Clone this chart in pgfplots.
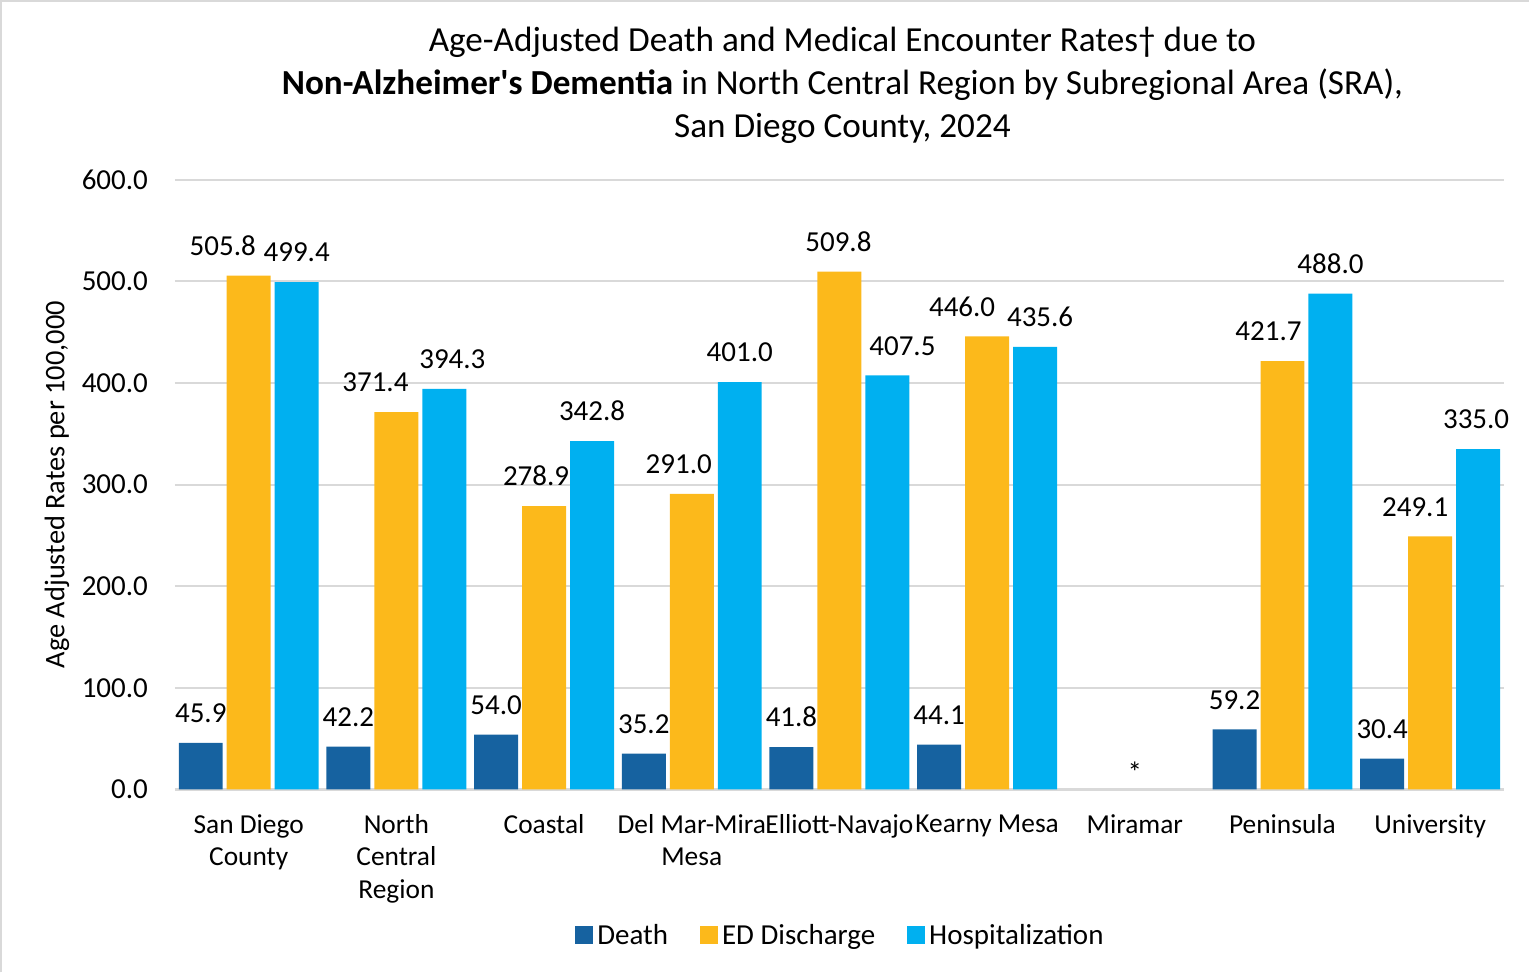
\documentclass[border=0pt]{standalone}
\usepackage{fontspec}
\setmainfont{Carlito}[Ligatures=TeXOff]
\usepackage{pgfplots}
\usepackage{pgfplotstable}
\pgfplotsset{compat=1.18}
\definecolor{death}{HTML}{1662A0}
\definecolor{edis}{HTML}{FCB91B}
\definecolor{hosp}{HTML}{00B0F0}
\definecolor{gridgray}{HTML}{D9D9D9}

% x, rates, and label x-shifts (pt) for the crowded labels
\pgfplotstableread{
x death ed    hosp  dxed  dxhosp
0 45.9  505.8 499.4 -13   0
1 42.2  371.4 394.3 -10.5 4
2 54.0  278.9 342.8 -4    0
3 35.2  291.0 401.0 -6.5  0
4 41.8  509.8 407.5 -0.5  7.5
5 44.1  446.0 435.6 -12.5 2.5
6 nan   nan   nan   0     0
7 59.2  421.7 488.0 -7    0
8 30.4  249.1 335.0 -7.5  -1
}\rates

\begin{document}
\begin{tikzpicture}
\path (0,0) rectangle (765pt,486.5pt);
\draw[gridgray, line width=1pt] (0.5pt,0) -- (0.5pt,486pt) -- (765pt,486pt);
\node[align=center, font=\fontsize{17.6}{21.5}\selectfont] at (421.5pt,444pt)
  {Age-Adjusted Death and Medical Encounter Rates† due to\\
   \textbf{Non-Alzheimer's Dementia} in North Central Region by Subregional Area (SRA),\\
   San Diego County, 2024};
\begin{axis}[
  at={(87.5pt,91.5pt)}, anchor=south west,
  scale only axis, width=665pt, height=305pt,
  ybar, bar width=22pt,
  xmin=-0.5, xmax=8.5, ymin=0, ymax=600,
  xtick={0,...,8},
  xticklabels={{San Diego\\County},{North\\Central\\Region},Coastal,{Del Mar-Mira\\Mesa},Elliott-Navajo,Kearny Mesa,Miramar,Peninsula,University},
  xticklabel style={align=center, font=\fontsize{13.7}{16.2}\selectfont, yshift=-9pt},
  ytick={0,100,...,600},
  yticklabel style={font=\fontsize{14.5}{16}\selectfont, xshift=-10pt},
  yticklabel={\pgfmathprintnumber[fixed,fixed zerofill,precision=1]{\tick}},
  /pgf/number format/assume math mode=true,
  major tick length=0pt,
  ymajorgrids, grid style={gridgray, line width=1pt},
  axis line style={draw=none},
  axis x line*=bottom,
  x axis line style={draw=gridgray, line width=1.2pt},
  axis y line*=left,
  y axis line style={draw=none},
  ylabel={Age Adjusted Rates per 100,000},
  every axis y label/.style={at={(rel axis cs:0,0.5)}, rotate=90, anchor=center,
    yshift=59pt, font=\fontsize{14.2}{16}\selectfont},
  nodes near coords={\pgfmathprintnumber[fixed,fixed zerofill,precision=1,assume math mode=true]{\pgfplotspointmeta}},
  every node near coord/.append style={font=\fontsize{14.5}{16}\selectfont, text=black, yshift=6.5pt},
  legend style={at={(0.5015,-0.241)}, anchor=center, legend columns=3, draw=none,
    font=\fontsize{14.5}{16}\selectfont,
    /tikz/every even column/.append style={column sep=14pt}},
  legend image code/.code={\fill[#1] (0pt,-4pt) rectangle (9pt,5pt);},
]
\addplot[fill=death, draw=none, bar shift=-24pt] table[x=x, y=death] {\rates};
\addplot[fill=edis, draw=none, bar shift=0pt,
  visualization depends on={\thisrow{dxed} \as \dx},
  every node near coord/.append style={xshift=\dx pt}] table[x=x, y=ed] {\rates};
\addplot[fill=hosp, draw=none, bar shift=24pt,
  visualization depends on={\thisrow{dxhosp} \as \dx},
  every node near coord/.append style={xshift=\dx pt}] table[x=x, y=hosp] {\rates};
\node[font=\fontsize{14.5}{16}\selectfont, anchor=south] at (axis cs:6,0) {*};
\legend{Death, ED Discharge, Hospitalization}
\end{axis}
\end{tikzpicture}
\end{document}
